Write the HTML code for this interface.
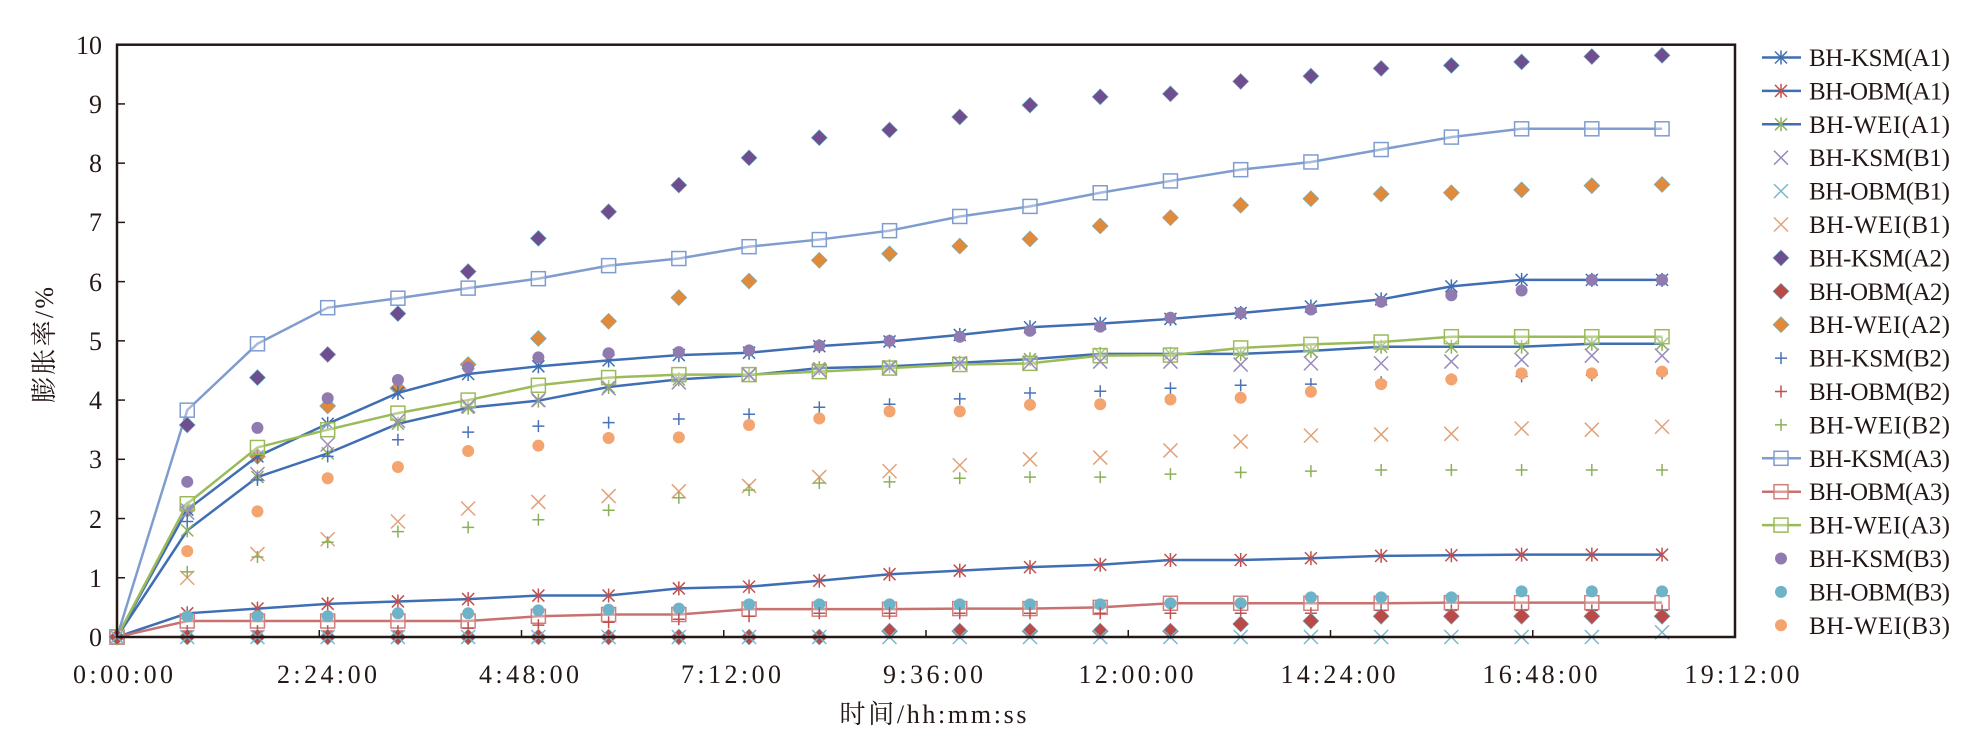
<!DOCTYPE html>
<html><head><meta charset="utf-8"><style>
html,body{margin:0;padding:0;background:#fff;width:1987px;height:753px;overflow:hidden}
svg text{font-family:"Liberation Serif","Noto Serif CJK SC",serif;fill:#231815}
</style></head><body>
<svg id="s" width="1987" height="753" xmlns="http://www.w3.org/2000/svg">
<g id="plot"></g>
<rect x="117" y="44.7" width="1618" height="592.3" fill="none" stroke="#231815" stroke-width="2.5"/>
<g font-size="26" text-anchor="end">
<text x="102" y="646">0</text><text x="102" y="587">1</text><text x="102" y="528">2</text><text x="102" y="468">3</text><text x="102" y="409">4</text><text x="102" y="350">5</text><text x="102" y="291">6</text><text x="102" y="231">7</text><text x="102" y="172">8</text><text x="102" y="113">9</text><text x="102" y="54">10</text>
</g>
<g font-size="26" text-anchor="middle">
<text x="123" y="683" textLength="100">0:00:00</text>
<text x="327" y="683" textLength="100">2:24:00</text>
<text x="529" y="683" textLength="100">4:48:00</text>
<text x="731" y="683" textLength="100">7:12:00</text>
<text x="933" y="683" textLength="100">9:36:00</text>
<text x="1136" y="683" textLength="115">12:00:00</text>
<text x="1338" y="683" textLength="115">14:24:00</text>
<text x="1540" y="683" textLength="115">16:48:00</text>
<text x="1742" y="683" textLength="115">19:12:00</text>
</g>
<text x="933" y="723" font-size="26" text-anchor="middle" textLength="187">时间/hh:mm:ss</text>
<text transform="translate(53,345) rotate(-90)" font-size="26" text-anchor="middle" textLength="116">膨胀率/%</text>
<g id="leg" font-size="25">
<text x="1809" y="66" textLength="141">BH-KSM(A1)</text>
<text x="1809" y="99.4" textLength="141">BH-OBM(A1)</text>
<text x="1809" y="132.8" textLength="141">BH-WEI(A1)</text>
<text x="1809" y="166.2" textLength="141">BH-KSM(B1)</text>
<text x="1809" y="199.6" textLength="141">BH-OBM(B1)</text>
<text x="1809" y="233" textLength="141">BH-WEI(B1)</text>
<text x="1809" y="266.4" textLength="141">BH-KSM(A2)</text>
<text x="1809" y="299.8" textLength="141">BH-OBM(A2)</text>
<text x="1809" y="333.2" textLength="141">BH-WEI(A2)</text>
<text x="1809" y="366.6" textLength="141">BH-KSM(B2)</text>
<text x="1809" y="400" textLength="141">BH-OBM(B2)</text>
<text x="1809" y="433.4" textLength="141">BH-WEI(B2)</text>
<text x="1809" y="466.8" textLength="141">BH-KSM(A3)</text>
<text x="1809" y="500.2" textLength="141">BH-OBM(A3)</text>
<text x="1809" y="533.6" textLength="141">BH-WEI(A3)</text>
<text x="1809" y="567" textLength="141">BH-KSM(B3)</text>
<text x="1809" y="600.4" textLength="141">BH-OBM(B3)</text>
<text x="1809" y="633.8" textLength="141">BH-WEI(B3)</text>
</g>
</svg>
<script>
var NS="http://www.w3.org/2000/svg",P=document.getElementById('plot'),S=document.getElementById('s');
function X(i){return 117+i*70.23}function Y(v){return 637-v*59.23}
function el(t,a,p){var e=document.createElementNS(NS,t);for(var k in a)e.setAttribute(k,a[k]);(p||P).appendChild(e);return e}
function mk(type,c,x,y,p){
 if(type=='sq')el('rect',{x:x-7,y:y-7,width:14,height:14,fill:'#fff','fill-opacity':0.3,stroke:c,'stroke-width':1.5},p);
 else if(type=='di')el('path',{d:'M'+x+' '+(y-8)+'L'+(x+8)+' '+y+'L'+x+' '+(y+8)+'L'+(x-8)+' '+y+'Z',fill:c,stroke:'#6ab4c8','stroke-width':0.6},p);
 else if(type=='ci')el('circle',{cx:x,cy:y,r:6,fill:c},p);
 else if(type=='x')el('path',{d:'M'+(x-7)+' '+(y-7)+'L'+(x+7)+' '+(y+7)+'M'+(x+7)+' '+(y-7)+'L'+(x-7)+' '+(y+7),stroke:c,'stroke-width':1.5,fill:'none'},p);
 else if(type=='+')el('path',{d:'M'+(x-6)+' '+y+'L'+(x+6)+' '+y+'M'+x+' '+(y-6)+'L'+x+' '+(y+6),stroke:c,'stroke-width':1.5,fill:'none'},p);
 else if(type=='*')el('path',{d:'M'+(x-6)+' '+(y-6)+'L'+(x+6)+' '+(y+6)+'M'+(x+6)+' '+(y-6)+'L'+(x-6)+' '+(y+6)+'M'+x+' '+(y-7)+'L'+x+' '+(y+7),stroke:c,'stroke-width':1.5,fill:'none'},p);
}
var S_=[
 // [legendIndex, lineColor or null, markerType, markerColor, data]
 [12,'#7f9ccf','sq','#7f9ccf',[0,3.83,4.95,5.56,5.72,5.89,6.05,6.27,6.39,6.59,6.71,6.86,7.1,7.27,7.5,7.7,7.89,8.02,8.23,8.44,8.58,8.58,8.58]],
 [6,null,'di','#6f4e8f',[0,3.58,4.38,4.77,5.46,6.17,6.73,7.18,7.63,8.09,8.43,8.56,8.78,8.98,9.12,9.17,9.38,9.47,9.6,9.65,9.71,9.8,9.82]],
 [8,null,'di','#e08a3c',[0,2.15,3.05,3.9,4.2,4.6,5.04,5.33,5.73,6.01,6.36,6.47,6.6,6.72,6.94,7.08,7.29,7.4,7.48,7.5,7.55,7.62,7.64]],
 [0,'#3f6eb3','*','#3f6eb3',[0,2.15,3.05,3.6,4.12,4.44,4.57,4.67,4.76,4.8,4.91,4.99,5.1,5.23,5.29,5.37,5.47,5.58,5.7,5.92,6.03,6.03,6.03]],
 [2,'#3f6eb3','*','#8bb05a',[0,1.8,2.7,3.1,3.6,3.87,3.99,4.22,4.35,4.42,4.54,4.57,4.63,4.69,4.78,4.78,4.78,4.83,4.9,4.9,4.9,4.95,4.95]],
 [14,'#9bbb59','sq','#9bbb59',[0,2.25,3.2,3.5,3.78,4.0,4.25,4.38,4.43,4.43,4.48,4.54,4.6,4.62,4.75,4.76,4.88,4.94,4.98,5.07,5.07,5.07,5.07]],
 [15,null,'ci','#8f7bb0',[0,2.62,3.53,4.03,4.34,4.55,4.72,4.79,4.81,4.84,4.92,5.0,5.07,5.17,5.24,5.39,5.47,5.53,5.66,5.77,5.85,6.03,6.03]],
 [3,null,'x','#9a8ac0',[0,2.1,2.75,3.25,3.65,3.9,4.0,4.2,4.3,4.43,4.5,4.55,4.62,4.63,4.65,4.65,4.6,4.62,4.62,4.65,4.68,4.75,4.75]],
 [9,null,'+','#4a72b8',[0,1.95,2.65,3.05,3.33,3.46,3.56,3.62,3.68,3.76,3.88,3.93,4.02,4.12,4.15,4.2,4.25,4.27,4.3,4.35,4.4,4.42,4.45]],
 [17,null,'ci','#f3a46f',[0,1.45,2.12,2.68,2.87,3.14,3.23,3.36,3.37,3.58,3.69,3.81,3.81,3.92,3.93,4.01,4.04,4.14,4.27,4.35,4.45,4.45,4.48]],
 [5,null,'x','#e0a27a',[0,1.0,1.4,1.65,1.95,2.17,2.28,2.38,2.46,2.55,2.7,2.8,2.9,3.0,3.03,3.15,3.3,3.4,3.42,3.43,3.52,3.5,3.55]],
 [11,null,'+','#8bb05a',[0,1.1,1.35,1.6,1.78,1.85,1.98,2.14,2.35,2.48,2.6,2.62,2.68,2.7,2.7,2.75,2.78,2.8,2.82,2.82,2.82,2.82,2.82]],
 [1,'#3f6eb3','*','#c0504d',[0,0.4,0.48,0.56,0.6,0.64,0.7,0.7,0.82,0.85,0.95,1.06,1.12,1.18,1.22,1.3,1.3,1.33,1.37,1.38,1.39,1.39,1.39]],
 [13,'#c87270','sq','#d0807c',[0,0.27,0.27,0.27,0.27,0.27,0.35,0.38,0.38,0.47,0.47,0.47,0.48,0.48,0.5,0.57,0.57,0.57,0.57,0.58,0.58,0.58,0.58]],
 [16,null,'ci','#6fb3c9',[0,0.35,0.35,0.35,0.4,0.4,0.45,0.46,0.48,0.55,0.55,0.55,0.55,0.55,0.55,0.57,0.57,0.67,0.67,0.67,0.77,0.77,0.77]],
 [10,null,'+','#c0504d',[0,0.1,0.1,0.1,0.1,0.15,0.2,0.25,0.3,0.35,0.4,0.4,0.4,0.4,0.4,0.4,0.4,0.4,0.45,0.45,0.45,0.45,0.45]],
 [7,null,'di','#b94a48',[0,0,0,0,0,0,0,0,0,0,0,0.1,0.1,0.1,0.1,0.1,0.22,0.27,0.35,0.35,0.35,0.35,0.35]],
 [4,null,'x','#7ab8cc',[0,0,0,0,0,0,0,0,0,0,0,0,0,0,0,0,0,0,0,0,0,0,0.08]]
];
// axis ticks
var T=document.createElementNS(NS,'g');S.appendChild(T);
for(var v=1;v<10;v++)el('line',{x1:117,x2:125,y1:Y(v),y2:Y(v),stroke:'#231815','stroke-width':1.5},T);
for(var k=1;k<8;k++){var tx=117+k*202.25;el('line',{x1:tx,x2:tx,y1:637,y2:630,stroke:'#231815','stroke-width':1.5},T);}
S_.forEach(function(s){
 var d=s[4];
 if(s[1]){var pts=d.map(function(v,i){return X(i)+','+Y(v)}).join(' ');el('polyline',{points:pts,fill:'none',stroke:s[1],'stroke-width':2.5});}
 d.forEach(function(v,i){mk(s[2],s[3],X(i),Y(v));});
 var L=document.getElementById('leg'),ly=57.5+s[0]*33.4;
 if(s[1])el('line',{x1:1762,x2:1801,y1:ly,y2:ly,stroke:s[1],'stroke-width':2.5},L);
 mk(s[2],s[3],1781,ly,L);
});
</script>
</body></html>
